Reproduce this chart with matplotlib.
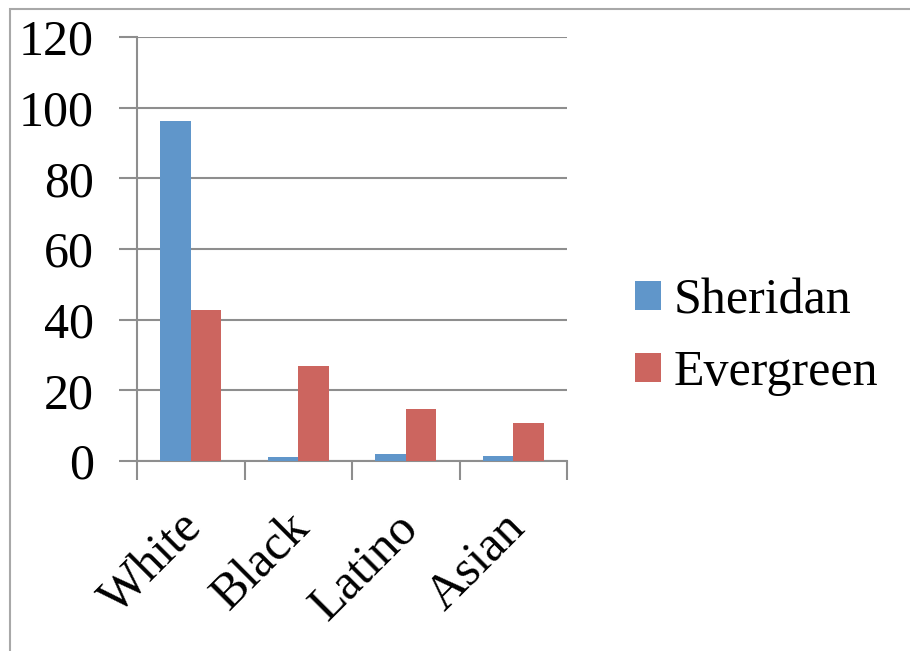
import matplotlib.pyplot as plt
from matplotlib.patches import Rectangle
from matplotlib.transforms import ScaledTranslation
import numpy as np

# data
groups = ['White', 'Black', 'Latino', 'Asian']
sheridan = [96.2, 1.2, 1.9, 1.4]
evergreen = [42.7, 26.9, 14.6, 10.7]
yticks = [0, 20, 40, 60, 80, 100, 120]

blue = '#6096CA'
red = '#CC655F'
grid = '#8E8E8E'

plt.rcParams['font.family'] = ['Liberation Serif', 'DejaVu Serif']

fig = plt.figure(figsize=(9.1, 6.51), dpi=100)
W, H = 910, 651
ax = fig.add_axes([137 / W, 1 - 461 / H, 430 / W, 424 / H])

x = np.arange(len(groups))
bw = 1 / 3.5
ax.bar(x - bw / 2, sheridan, bw, color=blue, label='Sheridan', zorder=3)
ax.bar(x + bw / 2, evergreen, bw, color=red, label='Evergreen', zorder=3)

ax.set_xlim(-0.5, len(groups) - 0.5)
ax.set_ylim(0, 120)
ax.set_yticks(yticks)
ax.yaxis.grid(True, color=grid, lw=1.5, zorder=0)

# category boundary ticks
ax.set_xticks(np.arange(-0.5, len(groups)), minor=False)
ax.set_xticklabels([])
ax.tick_params(axis='x', which='major', length=14, width=1.5, color=grid)
ax.set_xticks(x, minor=True)
ax.set_xticklabels(groups, minor=True, rotation=45, ha='right', va='top',
                   rotation_mode='anchor', fontsize=36)
ax.tick_params(axis='x', which='minor', length=0, pad=31)
shift = ScaledTranslation(-12 / 100, 0, fig.dpi_scale_trans)
for lbl in ax.get_xticklabels(minor=True):
    lbl.set_transform(lbl.get_transform() + shift)
ax.tick_params(axis='y', length=13, width=1.5, color=grid, labelsize=36, pad=18)

for s in ['top', 'right']:
    ax.spines[s].set_visible(False)
for s in ['left', 'bottom']:
    ax.spines[s].set_color(grid)
    ax.spines[s].set_linewidth(1.5)

leg = fig.legend(loc='upper left', bbox_to_anchor=(615 / W, 1 - 258 / H),
                 frameon=False, fontsize=36, handlelength=0.52, handleheight=0.52,
                 handletextpad=0.25, labelspacing=0.5, borderaxespad=0)

# outer frame of the chart object
fig.patches.append(Rectangle((9.5 / W, -0.1), 1.2, 1 - 8.5 / H + 0.1,
                             transform=fig.transFigure, fill=False,
                             edgecolor='#A8A8A8', lw=1.5))

fig.savefig('out.png', dpi=100)
